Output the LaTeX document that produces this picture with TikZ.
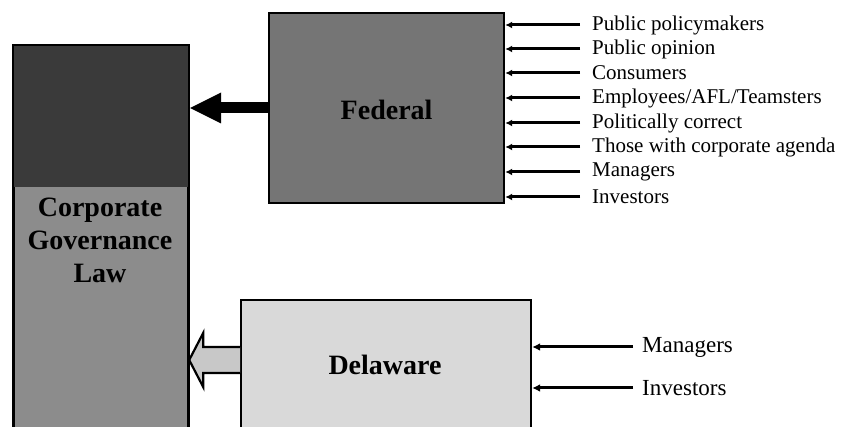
\documentclass[tikz,border=0pt]{standalone}
\usepackage{fontspec}
\setmainfont{Liberation Serif}
\usetikzlibrary{arrows.meta,calc}
\definecolor{darkg}{HTML}{3A3A3A}
\definecolor{colg}{HTML}{8C8C8C}
\definecolor{fedg}{HTML}{757575}
\definecolor{delg}{HTML}{D9D9D9}
\definecolor{arrg}{HTML}{C8C8C8}
\tikzset{
  boxstyle/.style={draw=black, line width=2.2pt, anchor=north west, inner sep=0pt},
  bigtext/.style={font=\fontsize{28}{33}\selectfont\bfseries, align=center},
  fedlabel/.style={anchor=west, inner xsep=12pt, inner ysep=0pt, font=\fontsize{21}{24}\selectfont},
  dellabel/.style={anchor=west, inner xsep=9pt, inner ysep=0pt, font=\fontsize{23}{26}\selectfont},
  fedin/.style={line width=3pt, -{Latex[length=7pt,width=7pt]}},
  delin/.style={line width=3pt, -{Latex[length=8pt,width=8pt]}},
}
\begin{document}
\begin{tikzpicture}[x=1pt,y=-1pt]
\useasboundingbox (0,0) rectangle (841,427);
\clip (0,0) rectangle (841,427);
% column
\node[boxstyle, fill=colg, minimum width=174pt, minimum height=400pt] (col) at (13,45) {};
\fill[darkg] ([xshift=1pt,yshift=-1pt]col.north west) rectangle ([xshift=-1pt]col.east |- 0,187);
\draw[line width=2.2pt] (col.north west) rectangle (col.east |- 0,445);
\node[bigtext] (cgl) at (100,240) {Corporate\\Governance\\Law};
% federal
\node[boxstyle, fill=fedg, minimum width=235pt, minimum height=190pt] (fed) at (268,12) {};
\node[bigtext] (fedt) at ([yshift=-2pt]fed.center) {Federal};
% delaware
\node[boxstyle, fill=delg, minimum width=290pt, minimum height=160pt] (del) at (240,299) {};
\node[bigtext] (delt) at (385,365) {Delaware};
% federal arrow
\coordinate (fa) at (fed.west |- 0,108);
\coordinate (fb) at (col.east |- 0,108);
\draw[line width=11pt, -{Triangle[length=31pt,width=31pt,line width=0pt]}] (fa) -- ([xshift=1pt]fb);
% delaware hollow arrow
\coordinate (da) at (del.west |- 0,360);
\coordinate (db) at (col.east |- 0,360);
\draw[line width=2.2pt, fill=arrg, line join=miter]
  ($(da)+(0,-13)$) -- ($(db)+(14,-13)$) -- ($(db)+(14,-27)$) -- (db)
  -- ($(db)+(14,27)$) -- ($(db)+(14,13)$) -- ($(da)+(0,13)$);
% federal inputs
\foreach \n/\y/\t in {1/25/{Public policymakers}, 2/49/{Public opinion}, 3/73/{Consumers}, 4/98/{Employees/AFL/Teamsters}, 5/123/{Politically correct}, 6/147/{Those with corporate agenda}, 7/172/{Managers}, 8/197/{Investors}}{
  \node[fedlabel] (f\n) at (580,\y) {\t};
  \draw[fedin] (f\n.west) -- (fed.east |- f\n.west);
}
% delaware inputs
\node[dellabel] (d1) at (633,347) {Managers};
\node[dellabel] (d2) at (633,388) {Investors};
\draw[delin] (d1.west) -- (del.east |- d1.west);
\draw[delin] (d2.west) -- (del.east |- d2.west);
\end{tikzpicture}
\end{document}
